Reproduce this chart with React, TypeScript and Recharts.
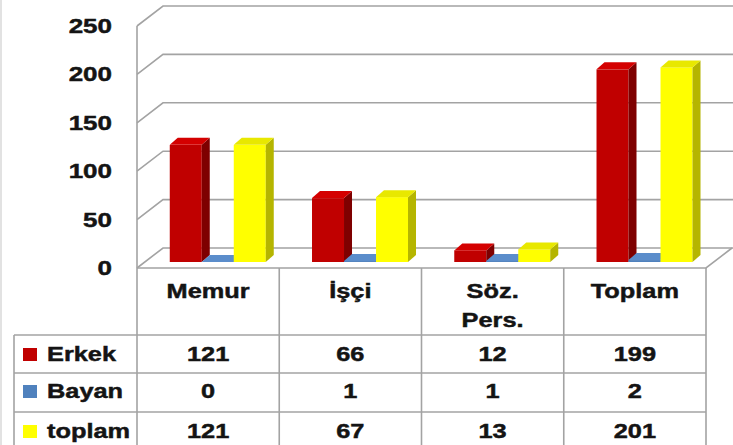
import React from 'react';
import { BarChart, Bar, XAxis, YAxis, CartesianGrid } from 'recharts';

const categories = ['Memur', 'İşçi', 'Söz. Pers.', 'Toplam'];
const erkek = [121, 66, 12, 199];
const bayan = [0, 1, 1, 2];
const toplamVals = [121, 67, 13, 201];
const yTicks = [0, 50, 100, 150, 200, 250];
const seriesNames = ['Erkek', 'Bayan', 'toplam'];
const seriesKeys = ['erkek', 'bayan', 'toplam'];
const seriesColors = ['#C00000', '#4F81BD', '#FFFF00'];
const seriesSide = ['#7E0000', '#365F91', '#B5B500'];
const seriesTop = ['#D40000', '#5B8DCB', '#E8E800'];
const seriesValues = [erkek, bayan, toplamVals];

const data = categories.map((c, i) => ({
  name: c,
  erkek: erkek[i],
  bayan: bayan[i],
  toplam: toplamVals[i],
}));

// layout
const W = 733;
const H = 445;
const PL = 137;
const PR = 706;
const PT = 26;
const PB = 268;
const BX = 26; // back wall offset
const BY = 20;
const OX = 10; // bar plane offset
const OY = 6;
const D = 8; // bar depth
const DD = 7;
const GRID = '#a3a3a3';
const FONT = "'Liberation Sans', Arial, Helvetica, sans-serif";
const SX = 1.3;

const T = ({ x, y, anchor = 'middle', size = 19.5, children }: any) => (
  <text
    transform={`translate(${x},${y}) scale(${SX},1)`}
    textAnchor={anchor}
    fontSize={size}
    fontWeight="bold"
    fontFamily={FONT}
    fill="#141414"
    stroke="#141414"
    strokeWidth={0.45}
  >
    {children}
  </text>
);

const make3D = (front: string, side: string, top: string) => (props: any) => {
  const { x, y, width, height } = props;
  if (x == null || y == null) return <g />;
  const h = Math.max(0, height || 0);
  const fx = x + OX;
  const fy = y - OY;
  const w = width;
  const by = fy + h;
  return (
    <g>
      <rect x={fx} y={fy} width={w} height={h} fill={front} />
      <polygon
        points={`${fx + w},${fy} ${fx + w + D},${fy - DD} ${fx + w + D},${by - DD} ${fx + w},${by}`}
        fill={side}
      />
      <polygon
        points={`${fx},${fy} ${fx + D},${fy - DD} ${fx + w + D},${fy - DD} ${fx + w},${fy}`}
        fill={top}
      />
    </g>
  );
};

const gridLine = (props: any) => {
  const { x1, y1, x2 } = props;
  return (
    <polyline
      key={`g-${y1}`}
      points={`${x1},${y1} ${x1 + BX},${y1 - BY} ${x2 + 60},${y1 - BY}`}
      fill="none"
      stroke={GRID}
      strokeWidth={1.6}
    />
  );
};

const YTick = (props: any) => {
  const { x, y, payload } = props;
  return (
    <T x={x} y={y + 7} anchor="end" size={20}>
      {payload.value}
    </T>
  );
};

const wrapLabel = (s: string) => {
  const words = s.split(' ');
  if (words.length > 1 && s.length > 7) return words;
  return [s];
};

const Table = () => {
  const n = categories.length;
  const colW = (PR - PL) / n;
  const rowTops = [335, 373, 412];
  const rowBase = [361, 398, 438];
  const cols = Array.from({ length: n + 1 }, (_, i) => PL + i * colW);
  return (
    <svg
      width={W}
      height={H}
      style={{ position: 'absolute', left: 0, top: 0, pointerEvents: 'none' }}
    >
      <line x1={1} y1={0} x2={1} y2={H} stroke="#e2e2e2" strokeWidth={2} />
      <polyline
        points={`${PL},${PB} ${PR},${PB} ${PR + BX},${PB - BY}`}
        fill="none"
        stroke={GRID}
        strokeWidth={1.6}
      />
      <line x1={14} y1={rowTops[0]} x2={14} y2={H + 2} stroke={GRID} strokeWidth={1.6} />
      {cols.map((cx, i) => (
        <line key={`v${i}`} x1={cx} y1={PB} x2={cx} y2={H + 2} stroke={GRID} strokeWidth={1.6} />
      ))}
      {rowTops.map((ry, i) => (
        <line key={`h${i}`} x1={14} y1={ry} x2={PR} y2={ry} stroke={GRID} strokeWidth={1.6} />
      ))}
      {categories.map((c, i) => {
        const lines = wrapLabel(c);
        return (
          <g key={`c${i}`}>
            {lines.map((ln, j) => (
              <T key={j} x={PL + (i + 0.5) * colW} y={298 + j * 29}>
                {ln}
              </T>
            ))}
          </g>
        );
      })}
      {seriesNames.map((s, r) => (
        <g key={`r${r}`}>
          <rect x={23} y={rowBase[r] - 13} width={14} height={13} fill={seriesColors[r]} />
          <T x={47} y={rowBase[r]} anchor="start">
            {s}
          </T>
          {seriesValues[r].map((v, i) => (
            <T key={i} x={PL + (i + 0.5) * colW} y={rowBase[r]}>
              {v}
            </T>
          ))}
        </g>
      ))}
    </svg>
  );
};

export default function App() {
  return (
    <div
      style={{
        position: 'absolute',
        left: 0,
        top: 0,
        width: W,
        height: H,
        background: '#fff',
        overflow: 'hidden',
      }}
    >
      <BarChart
        width={W}
        height={H}
        data={data}
        margin={{ top: PT, right: W - PR, bottom: H - PB, left: 0 }}
        barCategoryGap="16%"
        barGap={0}
      >
        <CartesianGrid vertical={false} horizontal={gridLine} />
        <XAxis dataKey="name" hide />
        <YAxis
          width={PL}
          domain={[0, 250]}
          ticks={yTicks}
          interval={0}
          tickLine={false}
          tickSize={0}
          tickMargin={25}
          axisLine={{ stroke: GRID, strokeWidth: 1.6 }}
          tick={<YTick />}
        />
        {seriesKeys.map((k, i) => (
          <Bar
            key={k}
            dataKey={k}
            isAnimationActive={false}
            shape={make3D(seriesColors[i], seriesSide[i], seriesTop[i])}
          />
        ))}
      </BarChart>
      <Table />
    </div>
  );
}
